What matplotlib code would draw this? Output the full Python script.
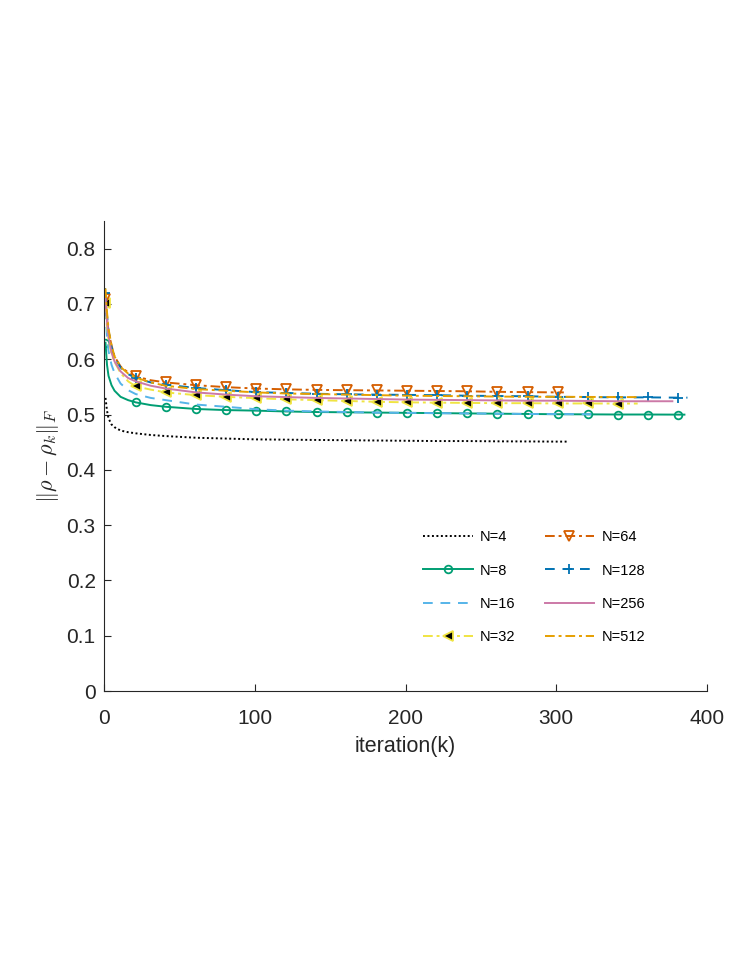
import numpy as np
import matplotlib
matplotlib.use("Agg")
import matplotlib.pyplot as plt

plt.rcParams["font.family"] = ["Liberation Sans", "DejaVu Sans"]
plt.rcParams["mathtext.fontset"] = "cm"

# iteration grid (values below are read at these iterations)
iters = [1, 2, 3, 5, 7, 11, 16, 21, 31, 41, 61, 81, 101, 121, 141, 161,
         181, 201, 221, 241, 261, 281, 301, 321, 341, 361, 381]

# last iteration of each run
end_k = {4: 308, 8: 385, 16: 327, 32: 354, 64: 305, 128: 387, 256: 377, 512: 354}

err_4 = [0.530, 0.507, 0.493, 0.482, 0.477, 0.471, 0.468, 0.466, 0.463, 0.461,
         0.458, 0.4565, 0.455, 0.4545, 0.454, 0.4535, 0.453, 0.4525, 0.452,
         0.452, 0.4515, 0.4513, 0.451]
err_8 = [0.630, 0.590, 0.570, 0.553, 0.543, 0.532, 0.526, 0.522, 0.517, 0.514,
         0.510, 0.508, 0.507, 0.5055, 0.5045, 0.504, 0.5035, 0.503, 0.5025,
         0.502, 0.5015, 0.501, 0.5005, 0.5003, 0.500, 0.500, 0.4998]
err_16 = [0.690, 0.640, 0.615, 0.590, 0.575, 0.556, 0.544, 0.537, 0.530, 0.526,
          0.518, 0.514, 0.5095, 0.507, 0.5055, 0.5045, 0.5035, 0.503, 0.5025,
          0.502, 0.5015, 0.501, 0.5008, 0.5005]
err_32 = [0.702, 0.660, 0.635, 0.610, 0.595, 0.575, 0.560, 0.551, 0.545, 0.540,
          0.535, 0.532, 0.5295, 0.5275, 0.526, 0.5245, 0.523, 0.522, 0.5215,
          0.521, 0.5205, 0.5205, 0.520, 0.520, 0.5198]
err_64 = [0.708, 0.675, 0.650, 0.625, 0.605, 0.587, 0.576, 0.569, 0.562, 0.558,
          0.553, 0.5495, 0.547, 0.5455, 0.5445, 0.544, 0.5435, 0.543, 0.5425,
          0.542, 0.541, 0.5405, 0.540]
err_128 = [0.720, 0.680, 0.652, 0.622, 0.603, 0.585, 0.573, 0.566, 0.558, 0.554,
           0.548, 0.544, 0.5405, 0.539, 0.5375, 0.5365, 0.536, 0.5355, 0.535,
           0.534, 0.5335, 0.533, 0.532, 0.5315, 0.531, 0.531, 0.5305]
err_256 = [0.712, 0.670, 0.642, 0.612, 0.596, 0.578, 0.566, 0.560, 0.552, 0.547,
           0.540, 0.536, 0.533, 0.5315, 0.530, 0.529, 0.528, 0.527, 0.5265,
           0.526, 0.5255, 0.525, 0.525, 0.5245, 0.524, 0.524]
err_512 = [0.728, 0.685, 0.655, 0.625, 0.605, 0.586, 0.574, 0.567, 0.558, 0.552,
           0.546, 0.543, 0.540, 0.538, 0.537, 0.536, 0.535, 0.534, 0.5335,
           0.533, 0.5325, 0.532, 0.532, 0.5318, 0.5315]

dashdot = (0, (5, 2, 1.5, 2))
series = [
    (4, err_4, dict(color="black", ls=(0, (1, 1.3)), marker=None)),
    (8, err_8, dict(color="#009E73", ls="-", marker="o", mfc="none", ms=5.5, mew=1.3)),
    (16, err_16, dict(color="#56B4E9", ls=(0, (5, 4)), marker=None)),
    (32, err_32, dict(color="#F0E442", ls=dashdot, marker="<", mfc="black",
                      mec="#F0E442", ms=6.5, mew=1.3)),
    (64, err_64, dict(color="#D55E00", ls=dashdot, marker="v", mfc="none",
                      ms=6.5, mew=1.3)),
    (128, err_128, dict(color="#0072B2", ls=(0, (5, 4)), marker="+", ms=7, mew=1.3)),
    (256, err_256, dict(color="#CC79A7", ls="-", marker=None)),
    (512, err_512, dict(color="#E69F00", ls=dashdot, marker=None)),
]

fig = plt.figure(figsize=(7.47, 9.67), dpi=100)
ax = fig.add_axes([0.1392, 0.2854, 0.8073, 0.4861])

for n, vals, st in series:
    k = iters[:len(vals)] + [end_k[n]]
    v = vals + [vals[-1]]
    marks = [i for i in range(len(vals)) if (iters[i] - 1) % 20 == 0]
    ax.plot(k, v, lw=1.4, markevery=marks, label="N=%d" % n, **st)

ax.set_xlim(0, 400)
ax.set_ylim(0, 0.85)
ax.set_xticks([0, 100, 200, 300, 400])
ax.set_yticks(np.arange(0, 0.81, 0.1))
ax.set_yticklabels(["0", "0.1", "0.2", "0.3", "0.4", "0.5", "0.6", "0.7", "0.8"])
for s in ["top", "right"]:
    ax.spines[s].set_visible(False)
for s in ["left", "bottom"]:
    ax.spines[s].set_color("#262626")
    ax.spines[s].set_linewidth(0.8)
ax.tick_params(direction="in", length=5, width=0.8, colors="#262626",
               labelsize=15, pad=6)
ax.tick_params(axis="x", pad=13)
ax.set_xlabel("iteration(k)", fontsize=15.5, color="#262626", labelpad=6)
ax.set_ylabel(r"$\|\rho-\rho_k\|_F$", fontsize=16, color="#262626", labelpad=4)

ax.legend(ncol=2, frameon=False, fontsize=10.5, loc="upper left",
          bbox_to_anchor=(410 / 747, 1 - 517 / 967), bbox_transform=fig.transFigure,
          handlelength=3.4, labelspacing=1.33, columnspacing=2.0, handletextpad=0.5)

fig.savefig("out.png", dpi=100)
